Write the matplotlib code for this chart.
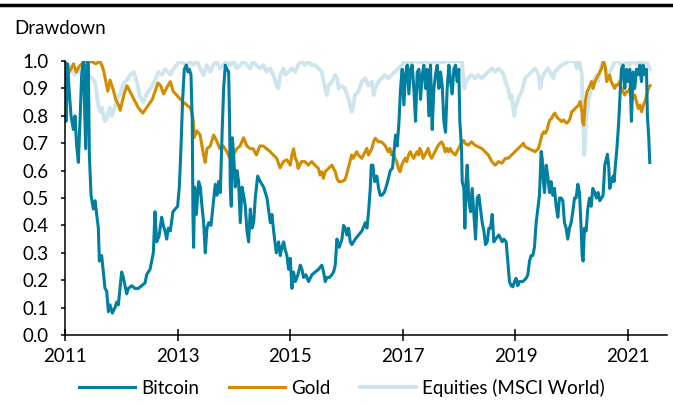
import matplotlib
matplotlib.use("Agg")
import matplotlib.pyplot as plt
from matplotlib.lines import Line2D

plt.rcParams['font.family'] = ['Lato', 'DejaVu Sans']

# Data (fractional years, drawdown ratio)
btc_dates = [
    2011.000, 2011.018, 2011.047, 2011.071, 2011.107, 2011.148, 2011.178, 2011.207, 2011.237, 2011.266,
    2011.296, 2011.326, 2011.367, 2011.391, 2011.414, 2011.432, 2011.462, 2011.503, 2011.533, 2011.562,
    2011.592, 2011.610, 2011.651, 2011.681, 2011.710, 2011.740, 2011.770, 2011.799, 2011.841, 2011.888,
    2011.918, 2011.947, 2011.977, 2012.006, 2012.036, 2012.066, 2012.095, 2012.125, 2012.184, 2012.243,
    2012.302, 2012.362, 2012.421, 2012.450, 2012.510, 2012.569, 2012.598, 2012.628, 2012.669, 2012.717,
    2012.746, 2012.776, 2012.806, 2012.835, 2012.870, 2012.917, 2012.959, 2013.000, 2013.030, 2013.059,
    2013.089, 2013.118, 2013.154, 2013.184, 2013.207, 2013.237, 2013.260, 2013.272, 2013.284, 2013.302,
    2013.332, 2013.373, 2013.403, 2013.432, 2013.462, 2013.491, 2013.521, 2013.551, 2013.592, 2013.628,
    2013.669, 2013.699, 2013.728, 2013.758, 2013.787, 2013.817, 2013.847, 2013.876, 2013.906, 2013.923,
    2013.935, 2013.953, 2013.971, 2013.994, 2014.024, 2014.054, 2014.083, 2014.113, 2014.143, 2014.172,
    2014.202, 2014.231, 2014.261, 2014.291, 2014.320, 2014.350, 2014.379, 2014.421, 2014.468, 2014.527,
    2014.587, 2014.646, 2014.675, 2014.705, 2014.752, 2014.794, 2014.823, 2014.853, 2014.883, 2014.911,
    2014.941, 2014.970, 2015.000, 2015.030, 2015.059, 2015.089, 2015.136, 2015.178, 2015.207, 2015.237,
    2015.278, 2015.326, 2015.385, 2015.444, 2015.503, 2015.562, 2015.592, 2015.622, 2015.651, 2015.693,
    2015.740, 2015.770, 2015.799, 2015.829, 2015.870, 2015.918, 2015.947, 2015.977, 2016.006, 2016.036,
    2016.066, 2016.095, 2016.154, 2016.214, 2016.273, 2016.332, 2016.362, 2016.391, 2016.421, 2016.439,
    2016.468, 2016.498, 2016.539, 2016.569, 2016.598, 2016.628, 2016.669, 2016.717, 2016.776, 2016.817,
    2016.870, 2016.899, 2016.929, 2016.959, 2016.988, 2017.018, 2017.047, 2017.077, 2017.107, 2017.136,
    2017.166, 2017.195, 2017.225, 2017.255, 2017.284, 2017.314, 2017.343, 2017.373, 2017.403, 2017.432,
    2017.462, 2017.491, 2017.521, 2017.551, 2017.580, 2017.610, 2017.639, 2017.669, 2017.699, 2017.728,
    2017.758, 2017.787, 2017.817, 2017.847, 2017.876, 2017.906, 2017.935, 2017.965, 2017.994, 2018.012,
    2018.042, 2018.054, 2018.083, 2018.101, 2018.125, 2018.143, 2018.172, 2018.202, 2018.231, 2018.261,
    2018.291, 2018.320, 2018.350, 2018.379, 2018.409, 2018.439, 2018.468, 2018.498, 2018.527, 2018.557,
    2018.587, 2018.616, 2018.646, 2018.705, 2018.764, 2018.794, 2018.834, 2018.864, 2018.893, 2018.923,
    2018.953, 2018.982, 2019.012, 2019.041, 2019.071, 2019.130, 2019.189, 2019.219, 2019.249, 2019.278,
    2019.308, 2019.337, 2019.367, 2019.397, 2019.426, 2019.456, 2019.474, 2019.497, 2019.515, 2019.545,
    2019.574, 2019.604, 2019.633, 2019.663, 2019.693, 2019.722, 2019.752, 2019.781, 2019.811, 2019.841,
    2019.870, 2019.900, 2019.929, 2019.959, 2019.989, 2020.018, 2020.048, 2020.077, 2020.107, 2020.137,
    2020.166, 2020.184, 2020.201, 2020.225, 2020.255, 2020.284, 2020.314, 2020.344, 2020.373, 2020.408,
    2020.438, 2020.467, 2020.497, 2020.526, 2020.556, 2020.586, 2020.615, 2020.633, 2020.657, 2020.674,
    2020.704, 2020.734, 2020.751, 2020.775, 2020.805, 2020.834, 2020.858, 2020.882, 2020.911, 2020.941,
    2020.970, 2021.000, 2021.030, 2021.059, 2021.089, 2021.118, 2021.148, 2021.178, 2021.207, 2021.237,
    2021.266, 2021.296, 2021.326, 2021.343, 2021.367, 2021.385,
]
btc_values = [
    1.00, 0.78, 0.99, 0.90, 0.80, 0.75, 0.80, 0.69, 0.63, 0.78,
    0.95, 1.00, 0.68, 1.00, 0.99, 0.66, 0.51, 0.46, 0.49, 0.44,
    0.39, 0.27, 0.29, 0.23, 0.17, 0.16, 0.085, 0.11, 0.08, 0.10,
    0.12, 0.11, 0.17, 0.23, 0.21, 0.18, 0.15, 0.17, 0.18, 0.17,
    0.17, 0.18, 0.19, 0.22, 0.24, 0.30, 0.45, 0.34, 0.36, 0.43,
    0.40, 0.38, 0.35, 0.39, 0.38, 0.45, 0.46, 0.47, 0.54, 0.68,
    0.86, 0.97, 0.985, 0.96, 0.97, 0.95, 0.78, 0.44, 0.32, 0.54,
    0.44, 0.56, 0.54, 0.47, 0.41, 0.30, 0.39, 0.41, 0.40, 0.47,
    0.55, 0.51, 0.56, 0.52, 0.72, 0.90, 0.985, 0.97, 0.96, 0.78,
    0.54, 0.47, 0.72, 0.66, 0.54, 0.60, 0.56, 0.41, 0.54, 0.51,
    0.47, 0.38, 0.34, 0.46, 0.39, 0.41, 0.50, 0.58, 0.56, 0.54,
    0.50, 0.41, 0.44, 0.38, 0.30, 0.34, 0.29, 0.32, 0.34, 0.31,
    0.29, 0.24, 0.28, 0.17, 0.23, 0.195, 0.22, 0.255, 0.24, 0.21,
    0.22, 0.195, 0.22, 0.23, 0.24, 0.255, 0.23, 0.195, 0.21, 0.21,
    0.22, 0.23, 0.255, 0.35, 0.32, 0.35, 0.40, 0.39, 0.365, 0.39,
    0.34, 0.33, 0.35, 0.365, 0.38, 0.41, 0.39, 0.45, 0.535, 0.62,
    0.62, 0.56, 0.58, 0.535, 0.51, 0.51, 0.52, 0.55, 0.60, 0.61,
    0.73, 0.69, 0.77, 0.90, 0.97, 0.84, 0.95, 0.985, 0.88, 0.97,
    0.985, 0.90, 0.78, 0.96, 0.97, 0.86, 0.95, 0.985, 0.90, 0.97,
    0.80, 0.985, 0.75, 0.90, 0.95, 0.985, 0.90, 0.96, 0.91, 0.78,
    0.74, 0.90, 0.985, 0.925, 0.88, 0.97, 0.985, 0.925, 0.97, 0.78,
    0.68, 0.56, 0.535, 0.39, 0.57, 0.62, 0.49, 0.45, 0.535, 0.44,
    0.35, 0.50, 0.51, 0.46, 0.41, 0.38, 0.33, 0.34, 0.39, 0.39,
    0.44, 0.34, 0.35, 0.365, 0.34, 0.35, 0.34, 0.27, 0.195, 0.18,
    0.176, 0.195, 0.207, 0.18, 0.195, 0.195, 0.207, 0.22, 0.27, 0.29,
    0.29, 0.32, 0.41, 0.46, 0.51, 0.67, 0.645, 0.56, 0.52, 0.62,
    0.58, 0.52, 0.56, 0.51, 0.535, 0.47, 0.43, 0.50, 0.50, 0.49,
    0.41, 0.39, 0.35, 0.39, 0.41, 0.45, 0.50, 0.50, 0.55, 0.52,
    0.39, 0.29, 0.27, 0.39, 0.38, 0.46, 0.50, 0.47, 0.535, 0.52,
    0.50, 0.52, 0.49, 0.50, 0.51, 0.62, 0.645, 0.66, 0.61, 0.535,
    0.56, 0.58, 0.56, 0.62, 0.69, 0.78, 0.88, 0.97, 0.985, 0.90,
    0.97, 0.925, 0.97, 0.78, 0.96, 0.90, 0.97, 0.95, 0.985, 0.925,
    0.985, 0.95, 0.97, 0.80, 0.72, 0.63,
]

gold_dates = [
    2011.00, 2011.05, 2011.10, 2011.15, 2011.20, 2011.25, 2011.30, 2011.35, 2011.40, 2011.45,
    2011.55, 2011.62, 2011.68, 2011.72, 2011.76, 2011.80, 2011.85, 2011.90, 2011.95, 2011.98,
    2012.05, 2012.10, 2012.15, 2012.20, 2012.25, 2012.30, 2012.38, 2012.45, 2012.55, 2012.65,
    2012.70, 2012.75, 2012.80, 2012.87, 2012.92, 2012.98, 2013.10, 2013.16, 2013.22, 2013.25,
    2013.28, 2013.29, 2013.34, 2013.40, 2013.46, 2013.49, 2013.52, 2013.58, 2013.64, 2013.69,
    2013.75, 2013.81, 2013.87, 2013.93, 2013.99, 2014.05, 2014.11, 2014.17, 2014.23, 2014.29,
    2014.34, 2014.40, 2014.46, 2014.52, 2014.58, 2014.64, 2014.70, 2014.76, 2014.82, 2014.88,
    2014.94, 2015.00, 2015.03, 2015.06, 2015.09, 2015.12, 2015.14, 2015.17, 2015.20, 2015.26,
    2015.32, 2015.38, 2015.44, 2015.50, 2015.53, 2015.56, 2015.59, 2015.62, 2015.68, 2015.74,
    2015.77, 2015.80, 2015.83, 2015.86, 2015.91, 2015.97, 2016.00, 2016.03, 2016.06, 2016.09,
    2016.12, 2016.15, 2016.18, 2016.21, 2016.27, 2016.33, 2016.36, 2016.39, 2016.42, 2016.45,
    2016.48, 2016.51, 2016.57, 2016.62, 2016.68, 2016.71, 2016.74, 2016.77, 2016.80, 2016.83,
    2016.86, 2016.89, 2016.92, 2016.95, 2016.98, 2017.01, 2017.04, 2017.07, 2017.10, 2017.13,
    2017.16, 2017.19, 2017.22, 2017.25, 2017.28, 2017.30, 2017.33, 2017.36, 2017.39, 2017.42,
    2017.45, 2017.48, 2017.51, 2017.54, 2017.57, 2017.60, 2017.63, 2017.66, 2017.69, 2017.72,
    2017.75, 2017.78, 2017.81, 2017.84, 2017.87, 2017.93, 2017.96, 2017.99, 2018.02, 2018.05,
    2018.08, 2018.10, 2018.16, 2018.22, 2018.28, 2018.34, 2018.40, 2018.46, 2018.52, 2018.58,
    2018.64, 2018.70, 2018.76, 2018.82, 2018.87, 2018.93, 2018.99, 2019.05, 2019.11, 2019.14,
    2019.17, 2019.23, 2019.29, 2019.35, 2019.41, 2019.44, 2019.47, 2019.50, 2019.53, 2019.56,
    2019.58, 2019.61, 2019.64, 2019.67, 2019.70, 2019.73, 2019.76, 2019.79, 2019.82, 2019.85,
    2019.88, 2019.91, 2019.94, 2019.97, 2020.00, 2020.03, 2020.06, 2020.09, 2020.12, 2020.15,
    2020.18, 2020.19, 2020.21, 2020.24, 2020.27, 2020.30, 2020.32, 2020.35, 2020.38, 2020.41,
    2020.44, 2020.47, 2020.50, 2020.53, 2020.56, 2020.59, 2020.62, 2020.64, 2020.67, 2020.70,
    2020.73, 2020.76, 2020.79, 2020.82, 2020.85, 2020.88, 2020.91, 2020.94, 2020.97, 2021.00,
    2021.03, 2021.06, 2021.09, 2021.12, 2021.15, 2021.18, 2021.21, 2021.24, 2021.27, 2021.30,
    2021.33, 2021.36, 2021.39,
]
gold_values = [
    0.98, 0.95, 0.97, 0.99, 0.96, 0.98, 0.99, 0.97, 0.99, 1.00,
    0.99, 1.00, 0.97, 0.93, 0.89, 0.93, 0.90, 0.86, 0.84, 0.82,
    0.88, 0.91, 0.89, 0.87, 0.85, 0.83, 0.81, 0.83, 0.86, 0.92,
    0.91, 0.88, 0.90, 0.925, 0.89, 0.876, 0.85, 0.84, 0.83, 0.815,
    0.78, 0.72, 0.745, 0.73, 0.657, 0.63, 0.68, 0.69, 0.73, 0.71,
    0.68, 0.69, 0.67, 0.645, 0.657, 0.68, 0.69, 0.72, 0.69, 0.68,
    0.68, 0.657, 0.69, 0.69, 0.68, 0.67, 0.657, 0.645, 0.61, 0.633,
    0.64, 0.62, 0.657, 0.68, 0.645, 0.633, 0.608, 0.62, 0.633, 0.633,
    0.62, 0.633, 0.62, 0.608, 0.584, 0.596, 0.572, 0.596, 0.608, 0.62,
    0.608, 0.596, 0.572, 0.56, 0.56, 0.566, 0.584, 0.608, 0.633, 0.657,
    0.645, 0.657, 0.669, 0.657, 0.645, 0.669, 0.681, 0.657, 0.669, 0.681,
    0.705, 0.718, 0.705, 0.705, 0.693, 0.681, 0.669, 0.681, 0.657, 0.669,
    0.645, 0.633, 0.608, 0.596, 0.62, 0.633, 0.645, 0.633, 0.657, 0.669,
    0.657, 0.645, 0.657, 0.669, 0.657, 0.681, 0.669, 0.645, 0.657, 0.669,
    0.681, 0.657, 0.645, 0.657, 0.669, 0.681, 0.693, 0.70, 0.705, 0.693,
    0.669, 0.681, 0.669, 0.681, 0.669, 0.657, 0.669, 0.681, 0.693, 0.705,
    0.71, 0.70, 0.693, 0.705, 0.693, 0.687, 0.681, 0.669, 0.657, 0.633,
    0.62, 0.633, 0.627, 0.645, 0.645, 0.657, 0.669, 0.681, 0.693, 0.70,
    0.687, 0.681, 0.675, 0.669, 0.681, 0.705, 0.73, 0.742, 0.736, 0.748,
    0.766, 0.785, 0.79, 0.803, 0.81, 0.797, 0.79, 0.785, 0.779, 0.785,
    0.779, 0.773, 0.779, 0.79, 0.815, 0.82, 0.827, 0.833, 0.839, 0.852,
    0.815, 0.779, 0.766, 0.852, 0.888, 0.90, 0.91, 0.925, 0.90, 0.925,
    0.937, 0.949, 0.961, 0.973, 0.998, 0.985, 0.925, 0.937, 0.949, 0.925,
    0.913, 0.90, 0.913, 0.913, 0.925, 0.90, 0.888, 0.876, 0.888, 0.888,
    0.90, 0.876, 0.864, 0.876, 0.852, 0.827, 0.839, 0.815, 0.839, 0.852,
    0.876, 0.90, 0.91,
]

eq_dates = [
    2011.00, 2011.06, 2011.12, 2011.18, 2011.24, 2011.30, 2011.36, 2011.41, 2011.47, 2011.53,
    2011.59, 2011.62, 2011.65, 2011.71, 2011.74, 2011.77, 2011.80, 2011.83, 2011.87, 2011.92,
    2011.98, 2012.04, 2012.10, 2012.16, 2012.22, 2012.28, 2012.33, 2012.39, 2012.45, 2012.52,
    2012.60, 2012.66, 2012.72, 2012.78, 2012.83, 2012.87, 2012.92, 2012.98, 2013.04, 2013.16,
    2013.22, 2013.28, 2013.34, 2013.40, 2013.46, 2013.52, 2013.58, 2013.63, 2013.69, 2013.75,
    2013.81, 2013.87, 2013.93, 2013.99, 2014.05, 2014.11, 2014.17, 2014.23, 2014.29, 2014.34,
    2014.40, 2014.46, 2014.52, 2014.58, 2014.64, 2014.70, 2014.76, 2014.79, 2014.82, 2014.88,
    2014.91, 2014.97, 2015.03, 2015.09, 2015.14, 2015.20, 2015.26, 2015.32, 2015.38, 2015.44,
    2015.50, 2015.56, 2015.62, 2015.65, 2015.68, 2015.74, 2015.80, 2015.83, 2015.86, 2015.91,
    2015.97, 2016.03, 2016.09, 2016.12, 2016.15, 2016.21, 2016.27, 2016.33, 2016.39, 2016.45,
    2016.48, 2016.51, 2016.57, 2016.62, 2016.68, 2016.74, 2016.80, 2016.86, 2016.92, 2016.98,
    2017.04, 2017.12, 2017.20, 2017.30, 2017.40, 2017.50, 2017.60, 2017.70, 2017.80, 2017.90,
    2018.00, 2018.05, 2018.07, 2018.09, 2018.12, 2018.16, 2018.22, 2018.28, 2018.34, 2018.40,
    2018.46, 2018.52, 2018.58, 2018.64, 2018.70, 2018.76, 2018.79, 2018.82, 2018.87, 2018.90,
    2018.93, 2018.96, 2018.98, 2019.00, 2019.02, 2019.05, 2019.11, 2019.17, 2019.23, 2019.29,
    2019.35, 2019.41, 2019.44, 2019.47, 2019.53, 2019.58, 2019.64, 2019.67, 2019.70, 2019.76,
    2019.82, 2019.88, 2019.94, 2020.00, 2020.06, 2020.09, 2020.12, 2020.15, 2020.18, 2020.19,
    2020.21, 2020.22, 2020.24, 2020.25, 2020.27, 2020.30, 2020.32, 2020.35, 2020.38, 2020.41,
    2020.44, 2020.47, 2020.50, 2020.53, 2020.56, 2020.59, 2020.65, 2020.71, 2020.77, 2020.83,
    2020.90, 2020.96, 2021.02, 2021.08, 2021.14, 2021.20, 2021.26, 2021.32, 2021.39,
]
eq_values = [
    0.99, 0.98, 0.97, 0.95, 0.96, 0.985, 0.97, 0.95, 0.94, 0.925,
    0.84, 0.815, 0.83, 0.78, 0.79, 0.815, 0.83, 0.80, 0.82, 0.86,
    0.88, 0.92, 0.93, 0.95, 0.96, 0.92, 0.87, 0.85, 0.88, 0.90,
    0.93, 0.96, 0.95, 0.97, 0.96, 0.95, 0.97, 0.985, 1.00, 0.985,
    1.00, 0.985, 1.00, 0.973, 0.949, 0.985, 0.961, 0.985, 1.00, 0.973,
    0.985, 1.00, 0.985, 1.00, 0.973, 0.985, 1.00, 0.985, 0.973, 1.00,
    0.985, 0.973, 0.985, 0.961, 0.973, 0.949, 0.91, 0.90, 0.949, 0.973,
    0.95, 0.96, 0.973, 0.96, 0.985, 1.00, 0.985, 1.00, 0.985, 0.985,
    0.973, 0.96, 0.90, 0.876, 0.91, 0.925, 0.949, 0.937, 0.90, 0.91,
    0.90, 0.864, 0.815, 0.839, 0.876, 0.888, 0.925, 0.937, 0.91, 0.925,
    0.876, 0.90, 0.925, 0.937, 0.949, 0.937, 0.949, 0.961, 0.973, 0.985,
    1.00, 0.99, 1.00, 0.995, 1.00, 0.99, 1.00, 0.995, 1.00, 1.00,
    1.00, 1.00, 0.95, 0.90, 0.925, 0.937, 0.949, 0.937, 0.949, 0.937,
    0.949, 0.961, 0.973, 0.961, 0.973, 0.961, 0.949, 0.925, 0.90, 0.864,
    0.876, 0.827, 0.80, 0.839, 0.84, 0.864, 0.888, 0.937, 0.949, 0.961,
    0.973, 0.949, 0.90, 0.937, 0.961, 0.973, 0.949, 0.937, 0.961, 0.973,
    0.985, 0.99, 1.00, 1.00, 1.00, 0.973, 1.00, 0.985, 0.949, 0.839,
    0.742, 0.657, 0.718, 0.779, 0.815, 0.864, 0.876, 0.90, 0.925, 0.937,
    0.949, 0.925, 0.961, 0.985, 1.00, 0.973, 0.949, 0.973, 1.00, 1.00,
    0.98, 1.00, 0.985, 1.00, 0.99, 1.00, 0.99, 1.00, 0.97,
]

year_ticks = [2011, 2013, 2015, 2017, 2019, 2021]
value_ticks = [0.0, 0.1, 0.2, 0.3, 0.4, 0.5, 0.6, 0.7, 0.8, 0.9, 1.0]

c_btc = '#007FA0'
c_gold = '#D18C00'
c_eq = '#CFE5ED'

fig = plt.figure(figsize=(6.73, 4.05), dpi=100)
ax = fig.add_axes([0.0966, 0.1728, 0.8944, 0.6765])

ax.plot(eq_dates, eq_values, color=c_eq, lw=2.8, label='Equities (MSCI World)', zorder=1)
ax.plot(gold_dates, gold_values, color=c_gold, lw=2.2, label='Gold', zorder=2)
ax.plot(btc_dates, btc_values, color=c_btc, lw=2.2, label='Bitcoin', zorder=3)

ax.set_xlim(2011.0, 2021.69)
ax.set_ylim(0, 1.0)
ax.set_xticks(year_ticks)
ax.set_xticklabels([str(y) for y in year_ticks])
ax.set_yticks(value_ticks)
ax.set_yticklabels([f'{v:.1f}' for v in value_ticks])

for s in ['top', 'right']:
    ax.spines[s].set_visible(False)
for s in ['left', 'bottom']:
    ax.spines[s].set_linewidth(1.1)
    ax.spines[s].set_color('black')
ax.spines['left'].set_zorder(5)

ax.tick_params(axis='y', direction='out', length=3, width=1.1, pad=9, labelsize=13.5, colors='black')
ax.tick_params(axis='x', direction='inout', length=8, width=1.1, pad=5, labelsize=13.5, colors='black')

# top rule and title
fig.add_artist(Line2D([0, 1], [0.988, 0.988], transform=fig.transFigure, color='black', lw=2.5))
fig.text(14 / 673, 1 - 28 / 405, 'Drawdown', fontsize=13.5, va='center', ha='left')

handles, labels = ax.get_legend_handles_labels()
order = [2, 1, 0]
fig.legend([handles[i] for i in order], [labels[i] for i in order],
           loc='center', bbox_to_anchor=(0.508, 0.042), ncol=3, frameon=False,
           fontsize=13.5, handlelength=3.0, handletextpad=0.3, columnspacing=1.6)

fig.savefig('out.png', dpi=100)
